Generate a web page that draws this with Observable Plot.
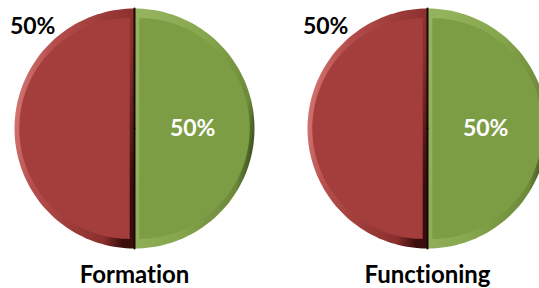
<!DOCTYPE html>
<html>
<head>
<meta charset="utf-8">
<script src="https://cdn.jsdelivr.net/npm/d3@7"></script>
<script src="https://cdn.jsdelivr.net/npm/@observablehq/plot@0.6"></script>
<style>
  html, body { margin: 0; padding: 0; background: #fff; }
  #chart svg { display: block; }
  #chart svg text { font-variant-ligatures: none; font-feature-settings: "liga" 0, "clig" 0; }
</style>
</head>
<body>
<div id="chart"></div>
<script>
// ---- data ----
const charts = ["Formation", "Functioning"];
const slices = ["Green", "Red"];
const formationValues = [50, 50];
const functioningValues = [50, 50];

// ---- layout (pixels) ----
const W = 539, H = 288;
const R = 120;              // pie radius in px
const cxPx = [134, 427];    // pie centers
const cyPx = 128;
const titleYPx = 275;

// data units: 1 unit = radius
const xDomain = [-cxPx[0] / R, (W - cxPx[0]) / R];
const yDomain = [-(H - cyPx) / R, cyPx / R];
const centers = cxPx.map(c => (c - cxPx[0]) / R);
const titleY = -(titleYPx - cyPx) / R;

const valuesByChart = [formationValues, functioningValues];
const pie = d3.pie().sort(null);

const outer = [], inner = [], dividers = [], labels = [], titles = [];
const pt = (cx, r, a, off = [0, 0]) => ({ x: cx + off[0] + r * Math.sin(a), y: off[1] + r * Math.cos(a) });

charts.forEach((name, ci) => {
  const cx = centers[ci];
  const vals = valuesByChart[ci];
  const total = d3.sum(vals);
  const arcs = pie(vals);
  arcs.forEach((a, si) => {
    const key = name + "-" + si;
    const n = 90;
    const mid = (a.startAngle + a.endAngle) / 2;
    // outer sector
    outer.push({ key, slice: si, x: cx, y: 0 });
    for (let k = 0; k <= n; k++) {
      const t = a.startAngle + (a.endAngle - a.startAngle) * k / n;
      outer.push({ key, slice: si, ...pt(cx, 1, t) });
    }
    outer.push({ key, slice: si, x: cx, y: 0 });
    // inner (bevel face)
    const d = 0.04, ri = 0.92;
    const off = [d * Math.sin(mid), d * Math.cos(mid)];
    inner.push({ key, slice: si, x: cx + off[0], y: off[1] });
    for (let k = 0; k <= n; k++) {
      const t = a.startAngle + (a.endAngle - a.startAngle) * k / n;
      inner.push({ key, slice: si, ...pt(cx, ri, t, off) });
    }
    inner.push({ key, slice: si, x: cx + off[0], y: off[1] });
    // divider radii
    dividers.push({ key: key + "s", x: cx, y: 0 }, { key: key + "s", ...pt(cx, 1, a.startAngle) });
    // labels
    const pct = Math.round(a.value / total * 100) + "%";
    if (slices[si] === "Green") {
      const p = pt(cx, 0.485, mid);
      labels.push({ ...p, text: pct, color: "white" });
    } else {
      const p = pt(cx, 1.2, a.endAngle - Math.PI / 4);
      labels.push({ ...p, text: pct, color: "black" });
    }
  });
  titles.push({ x: cx, y: titleY, text: name });
});

const baseColors = { 0: "#7d9d45", 1: "#a33e3c" };

const plot = Plot.plot({
  width: W,
  height: H,
  margin: 0,
  x: { domain: xDomain, axis: null },
  y: { domain: yDomain, axis: null },
  style: { fontFamily: "Lato, sans-serif", background: "white" },
  marks: [
    Plot.line(outer.filter(d => d.slice === 0), { x: "x", y: "y", z: "key", fill: "url(#rim0)", stroke: "none" }),
    Plot.line(outer.filter(d => d.slice === 1), { x: "x", y: "y", z: "key", fill: "url(#rim1)", stroke: "none" }),
    Plot.line(inner.filter(d => d.slice === 0), { x: "x", y: "y", z: "key", fill: baseColors[0], stroke: "none" }),
    Plot.line(inner.filter(d => d.slice === 1), { x: "x", y: "y", z: "key", fill: baseColors[1], stroke: "none" }),
    Plot.line(dividers, { x: "x", y: "y", z: "key", stroke: "#1c0806", strokeWidth: 2 }),
    Plot.text(labels, { x: "x", y: "y", text: "text", fill: "color", fontSize: 23, fontWeight: "bold" }),
    Plot.text(titles, { x: "x", y: "y", text: "text", fill: "black", fontSize: 24, fontWeight: "bold" })
  ]
});

// gradients for the bevel rim
const ns = "http://www.w3.org/2000/svg";
const defs = document.createElementNS(ns, "defs");
const grads = {
  rim0: [[0, "#95b35e"], [0.5, "#86a64d"], [0.88, "#6e8a3a"], [1, "#2f3f17"]],
  rim1: [[0, "#d57775"], [0.25, "#b44d4b"], [0.85, "#8a2f2d"], [1, "#3a0e0d"]]
};
for (const [id, stops] of Object.entries(grads)) {
  const g = document.createElementNS(ns, "linearGradient");
  g.setAttribute("id", id);
  g.setAttribute("x1", "0"); g.setAttribute("y1", "0.35");
  g.setAttribute("x2", "1"); g.setAttribute("y2", "0.65");
  for (const [o, c] of stops) {
    const s = document.createElementNS(ns, "stop");
    s.setAttribute("offset", o);
    s.setAttribute("stop-color", c);
    g.appendChild(s);
  }
  defs.appendChild(g);
}
plot.insertBefore(defs, plot.firstChild);

document.getElementById("chart").appendChild(plot);
</script>
</body>
</html>
